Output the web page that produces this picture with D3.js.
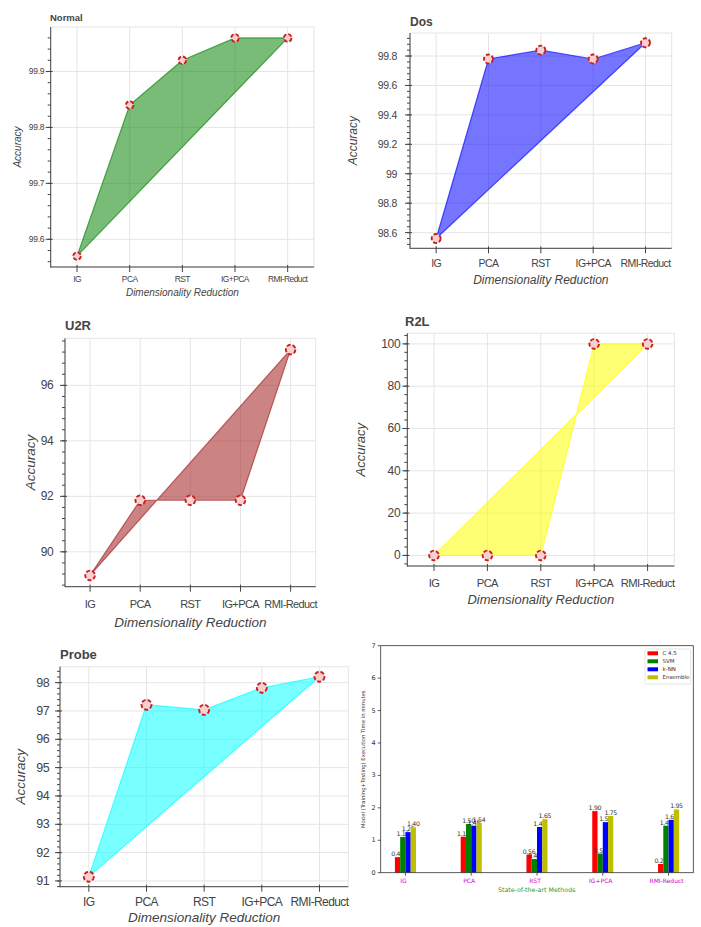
<!DOCTYPE html>
<html><head><meta charset="utf-8">
<script src="https://cdn.jsdelivr.net/npm/d3@7"></script>
<style>body{margin:0;background:#fff}svg{display:block}</style>
</head><body>
<svg id="c" width="701" height="927"></svg>
<script>
const methods = ["IG", "PCA", "RST", "IG+PCA", "RMI-Reduct"];
const normalAcc = [99.57, 99.84, 99.92, 99.96, 99.96];
const dosAcc = [98.56, 99.78, 99.84, 99.78, 99.89];
const u2rAcc = [89.15, 91.86, 91.86, 91.86, 97.29];
const r2lAcc = [0, 0, 0, 100, 100];
const probeAcc = [91.15, 97.22, 97.04, 97.82, 98.21];
const normalTicks = [99.6, 99.7, 99.8, 99.9];
const dosTicks = [98.6, 98.8, 99, 99.2, 99.4, 99.6, 99.8];
const u2rTicks = [90, 92, 94, 96];
const r2lTicks = [0, 20, 40, 60, 80, 100];
const probeTicks = [91, 92, 93, 94, 95, 96, 97, 98];

const classifiers = ["C 4.5", "SVM", "k-NN", "Ensemble"];
const c45Time = [0.48, 1.11, 0.56, 1.90, 0.27];
const svmTime = [1.10, 1.50, 0.42, 0.59, 1.45];
const knnTime = [1.25, 1.45, 1.41, 1.56, 1.63];
const ensembleTime = [1.40, 1.54, 1.65, 1.75, 1.95];
const timeTicks = [0, 1, 2, 3, 4, 5, 6, 7];

const svg = d3.select("#c");
const FONT = "'Liberation Sans', Arial, Helvetica, sans-serif";
const TXT = "#444";

function areaPanel(cfg) {
  const g = svg.append("g");
  const vals = cfg.values;
  const mn = d3.min(vals), mx = d3.max(vals), pad = (mx - mn) * 0.05;
  const x = d3.scalePoint().domain(methods).range([cfg.l, cfg.r]).padding(0.5);
  const y = d3.scaleLinear().domain([mn - pad, mx + pad]).range([cfg.b, cfg.t]);
  g.append("rect").attr("x", cfg.l).attr("y", cfg.t).attr("width", cfg.r - cfg.l).attr("height", cfg.b - cfg.t)
    .attr("fill", "#fff").attr("stroke", "#e5e5e5");
  g.selectAll(".gy").data(cfg.ticks).join("line").attr("x1", cfg.l).attr("x2", cfg.r)
    .attr("y1", d => y(d)).attr("y2", d => y(d)).attr("stroke", "#e5e5e5");
  g.selectAll(".gx").data(methods).join("line").attr("y1", cfg.t).attr("y2", cfg.b)
    .attr("x1", d => x(d)).attr("x2", d => x(d)).attr("stroke", "#e5e5e5");
  const pts = methods.map((m, i) => [x(m), y(vals[i])]);
  g.append("path").attr("d", "M" + pts.map(p => p.join(",")).join("L") + "Z")
    .attr("fill", cfg.color).attr("fill-opacity", cfg.alpha).attr("stroke", cfg.color)
    .attr("stroke-opacity", cfg.alpha + 0.1).attr("stroke-width", 1.2);
  g.selectAll(".pt").data(pts).join("circle").attr("cx", d => d[0]).attr("cy", d => d[1]).attr("r", cfg.mr)
    .attr("fill", "#f6d0d0").attr("stroke", "#c82020").attr("stroke-width", 1.9).attr("stroke-dasharray", "4,2");
  const ax = g.append("g").attr("stroke", TXT);
  ax.append("line").attr("x1", cfg.l).attr("x2", cfg.l).attr("y1", cfg.t).attr("y2", cfg.b + 0.5);
  ax.append("line").attr("x1", cfg.l).attr("x2", cfg.r).attr("y1", cfg.b).attr("y2", cfg.b);
  const step = cfg.ticks[1] - cfg.ticks[0];
  const [d0, d1] = y.domain();
  const minor = [];
  for (let k = Math.ceil((d0 - cfg.ticks[0]) / (step / 5) - 1e-9); cfg.ticks[0] + k * step / 5 <= d1 + 1e-9; k++) minor.push(cfg.ticks[0] + k * step / 5);
  ax.selectAll(".mn").data(minor).join("line").attr("x1", cfg.l - 3).attr("x2", cfg.l)
    .attr("y1", d => y(d)).attr("y2", d => y(d));
  ax.selectAll(".mj").data(cfg.ticks).join("line").attr("x1", cfg.l - 5).attr("x2", cfg.l + 2)
    .attr("y1", d => y(d)).attr("y2", d => y(d));
  ax.selectAll(".xt").data(methods).join("line").attr("y1", cfg.b - 2).attr("y2", cfg.b + 5)
    .attr("x1", d => x(d)).attr("x2", d => x(d));
  g.selectAll(".yl").data(cfg.ticks).join("text").attr("x", cfg.l - cfg.yoff).attr("y", d => y(d))
    .attr("text-anchor", "end").attr("dominant-baseline", "central").attr("font-family", FONT)
    .attr("font-size", cfg.fs).attr("fill", TXT).attr("letter-spacing", "-0.3").text(d => String(d));
  g.selectAll(".xl").data(methods).join("text").attr("x", d => x(d)).attr("y", cfg.xly)
    .attr("text-anchor", "middle").attr("dominant-baseline", "central").attr("font-family", FONT)
    .attr("font-size", cfg.xfs).attr("fill", TXT).attr("letter-spacing", "-0.6").text(d => d);
  g.append("text").attr("x", (cfg.l + cfg.r) / 2).attr("y", cfg.xty).attr("text-anchor", "middle")
    .attr("dominant-baseline", "central").attr("font-family", FONT).attr("font-style", "italic")
    .attr("font-size", cfg.afs).attr("fill", TXT).text("Dimensionality Reduction");
  g.append("text").attr("transform", `translate(${cfg.ytx},${(cfg.t + cfg.b) / 2}) rotate(-90)`)
    .attr("text-anchor", "middle").attr("dominant-baseline", "central").attr("font-family", FONT)
    .attr("font-style", "italic").attr("font-size", cfg.afs).attr("fill", TXT).text("Accuracy");
  g.append("text").attr("x", cfg.tx).attr("y", cfg.ty).attr("dominant-baseline", "central")
    .attr("font-family", FONT).attr("font-weight", "bold").attr("font-size", cfg.tfs).attr("fill", TXT)
    .text(cfg.title);
}

areaPanel({title: "Normal", values: normalAcc, ticks: normalTicks, color: "#008000", alpha: 0.53,
  l: 50.7, t: 27, r: 314, b: 267, fs: 8.5, xfs: 8.5, afs: 10, tfs: 9.5, yoff: 6.5, xly: 279.3, xty: 292.7,
  ytx: 17, tx: 50, ty: 17.3, mr: 3.8});
areaPanel({title: "Dos", values: dosAcc, ticks: dosTicks, color: "#0000ff", alpha: 0.54,
  l: 410, t: 33, r: 671.7, b: 248.3, fs: 10.5, xfs: 10.5, afs: 12, tfs: 12, yoff: 13, xly: 263, xty: 280,
  ytx: 353, tx: 410, ty: 21.7, mr: 4.5});
areaPanel({title: "U2R", values: u2rAcc, ticks: u2rTicks, color: "#a52a2a", alpha: 0.58,
  l: 65, t: 338.3, r: 315.7, b: 586.7, fs: 12, xfs: 11, afs: 13.5, tfs: 13, yoff: 11.5, xly: 604, xty: 622.7,
  ytx: 30, tx: 65, ty: 325, mr: 4.8});
areaPanel({title: "R2L", values: r2lAcc, ticks: r2lTicks, color: "#ffff00", alpha: 0.55,
  l: 407.3, t: 333.3, r: 674.3, b: 566, fs: 12, xfs: 11.2, afs: 13, tfs: 13, yoff: 7, xly: 582.7, xty: 599.3,
  ytx: 360.7, tx: 405, ty: 321.7, mr: 4.8});
areaPanel({title: "Probe", values: probeAcc, ticks: probeTicks, color: "#00ffff", alpha: 0.53,
  l: 60, t: 666.7, r: 348.3, b: 886.7, fs: 12.5, xfs: 12, afs: 13.5, tfs: 13, yoff: 10.5, xly: 901.7, xty: 917.3,
  ytx: 20.7, tx: 60, ty: 654, mr: 5});

(function () {
  const L = 380.7, R = 693.3, T = 645.7, B = 872.7;
  const g = svg.append("g");
  const x = d3.scaleLinear().domain([-0.376, 4.376]).range([L, R]);
  const y = d3.scaleLinear().domain([0, 7]).range([B, T]);
  const series = [c45Time, svmTime, knnTime, ensembleTime];
  const colors = ["#ff0000", "#008000", "#0000ff", "#bfbf00"];
  const w = 0.08;
  g.append("rect").attr("x", L).attr("y", T).attr("width", R - L).attr("height", B - T).attr("fill", "#fff");
  series.forEach((s, si) => {
    const off = (si - 1.5) * w;
    g.selectAll(".b" + si).data(s).join("rect")
      .attr("x", (d, i) => x(i + off - w / 2)).attr("width", x(w) - x(0))
      .attr("y", d => y(d)).attr("height", d => y(0) - y(d)).attr("fill", colors[si]);
    g.selectAll(".t" + si).data(s).join("text")
      .attr("x", (d, i) => x(i + off)).attr("y", d => y(d) - 1).attr("text-anchor", "middle")
      .attr("font-family", "'DejaVu Sans', sans-serif").attr("font-size", 6.2).attr("letter-spacing", "-0.3")
      .attr("fill", "#333").text(d => d.toFixed(2));
  });
  g.append("rect").attr("x", L).attr("y", T).attr("width", R - L).attr("height", B - T)
    .attr("fill", "none").attr("stroke", "#333").attr("stroke-width", 0.8);
  g.selectAll(".yt").data(timeTicks).join("line").attr("x1", L - 3).attr("x2", L)
    .attr("y1", d => y(d)).attr("y2", d => y(d)).attr("stroke", "#333").attr("stroke-width", 0.8);
  g.selectAll(".yl").data(timeTicks).join("text").attr("x", L - 5).attr("y", d => y(d))
    .attr("text-anchor", "end").attr("dominant-baseline", "central").attr("font-family", "'DejaVu Sans', sans-serif")
    .attr("font-size", 6.5).attr("fill", "#333").text(d => d);
  g.selectAll(".xt").data(methods).join("line").attr("x1", (d, i) => x(i)).attr("x2", (d, i) => x(i))
    .attr("y1", B).attr("y2", B + 3).attr("stroke", "#333").attr("stroke-width", 0.8);
  g.selectAll(".xl").data(methods).join("text").attr("x", (d, i) => x(i) - 2).attr("y", 880.7)
    .attr("text-anchor", "middle").attr("dominant-baseline", "central").attr("font-family", "'DejaVu Sans', sans-serif")
    .attr("font-size", 6).attr("fill", "#cc00cc").text(d => d);
  g.append("text").attr("x", 536.7).attr("y", 889.5).attr("text-anchor", "middle").attr("dominant-baseline", "central")
    .attr("font-family", "'DejaVu Sans', sans-serif").attr("font-size", 6.3).attr("fill", "#2e9a2e")
    .text("State-of-the-art Methods");
  g.append("text").attr("transform", `translate(363,${(T + B) / 2}) rotate(-90)`).attr("text-anchor", "middle")
    .attr("dominant-baseline", "central").attr("font-family", "'DejaVu Sans', sans-serif").attr("font-size", 5.3)
    .attr("fill", "#333").text("Model (Training+Testing) Execution Time in minutes");
  const lg = g.append("g");
  lg.append("rect").attr("x", 645).attr("y", 649).attr("width", 45.5).attr("height", 35).attr("fill", "#fff")
    .attr("stroke", "#ddd").attr("stroke-width", 0.8).attr("rx", 1.5);
  classifiers.forEach((c, i) => {
    const cy = 653.3 + i * 8;
    lg.append("rect").attr("x", 647.5).attr("y", cy - 2).attr("width", 10.5).attr("height", 4).attr("fill", colors[i]);
    lg.append("text").attr("x", 662.5).attr("y", cy).attr("dominant-baseline", "central")
      .attr("font-family", "'DejaVu Sans', sans-serif").attr("font-size", 5.5).attr("fill", "#333").text(c);
  });
})();
</script>
</body></html>
